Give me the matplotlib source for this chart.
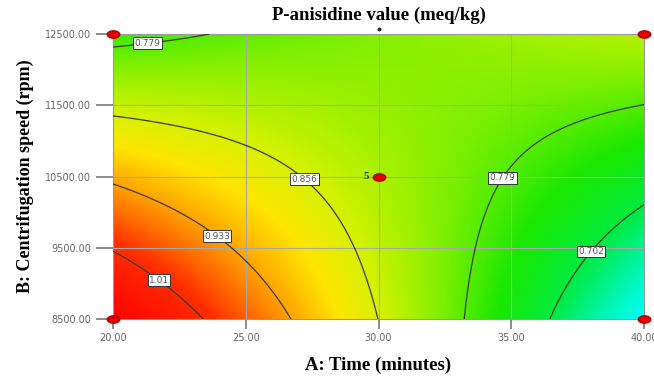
import numpy as np
import matplotlib
matplotlib.use("Agg")
import matplotlib.pyplot as plt
from matplotlib.colors import LinearSegmentedColormap
from matplotlib.path import Path

# Factor ranges (A: time in minutes, B: centrifugation speed in rpm)
time_range = [20.0, 40.0]
speed_range = [8500.0, 12500.0]
time_ticks = [20.0, 25.0, 30.0, 35.0, 40.0]
speed_ticks = [8500.0, 9500.0, 10500.0, 11500.0, 12500.0]

# Quadratic response-surface model in coded units: b0, A, B, AB, A^2, B^2
coef_names = ["b0", "A", "B", "AB", "A2", "B2"]
coef_values = [0.827, -0.1005, -0.0265, 0.1355, -0.003, 0.002]

# Contour levels and where their labels sit
levels = [0.702, 0.779, 0.856, 0.933, 1.01]
label_pos = [(21.3, 12400), (27.3, 10500), (24.0, 9700), (21.8, 9080),
             (34.6, 10500), (38.2, 9390)]

# Design points (corner runs and replicated centre point)
design_time = [20, 20, 40, 40, 30]
design_speed = [8500, 12500, 12500, 8500, 10500]
center_reps = 5

# colour ramp: cyan (low) -> green -> yellow -> red (high)
ramp_values = [0.6165, 0.66, 0.70, 0.75, 0.80, 0.85, 0.89, 0.93, 1.00, 1.0885]
ramp_colors = [(0.0, 1.0, 1.0), (0.0, 0.96, 0.65), (0.0, 0.92, 0.25),
               (0.1, 0.91, 0.0), (0.5, 0.94, 0.0), (0.82, 0.95, 0.0),
               (1.0, 0.9, 0.0), (1.0, 0.66, 0.0), (1.0, 0.18, 0.0),
               (1.0, 0.0, 0.0)]


def response(t, s):
    a = (t - 30.0) / 10.0
    b = (s - 10500.0) / 2000.0
    c = dict(zip(coef_names, coef_values))
    return (c["b0"] + c["A"] * a + c["B"] * b + c["AB"] * a * b
            + c["A2"] * a ** 2 + c["B2"] * b ** 2)


t = np.linspace(time_range[0], time_range[1], 400)
s = np.linspace(speed_range[0], speed_range[1], 400)
T, S = np.meshgrid(t, s)
Z = response(T, S)

vmin, vmax = ramp_values[0], ramp_values[-1]
stops = [(v - vmin) / (vmax - vmin) for v in ramp_values]
cmap = LinearSegmentedColormap.from_list("de_ramp", list(zip(stops, ramp_colors)))

fig = plt.figure(figsize=(6.54, 3.79), dpi=100)
ax = fig.add_axes([0.1728, 0.1583, 0.8119, 0.752])

ax.imshow(Z, extent=[*time_range, *speed_range], origin="lower",
          aspect="auto", cmap=cmap, vmin=vmin, vmax=vmax, interpolation="bilinear")

# grid lines at the tick positions
for x in time_ticks[1:-1]:
    ax.axvline(x, color="#a8a8a8", lw=0.8, zorder=2)
for y in speed_ticks[1:-1]:
    ax.axhline(y, color="#a8a8a8", lw=0.8, zorder=2)

cs = ax.contour(T, S, Z, levels=levels, colors="#3a3a20", linewidths=0.9, zorder=3)
labels = ax.clabel(cs, fmt=lambda v: f"{v:g}", fontsize=6.5, inline=False,
                   manual=label_pos, colors="#555555")
for txt in labels:
    txt.set_rotation(0)
    txt.set_bbox(dict(boxstyle="square,pad=0.15", fc="white", ec="#333333", lw=0.7))
    txt.set_zorder(5)

# elliptical marker for the design points
circ = Path.unit_circle()
ellipse = Path(circ.vertices * np.array([1.7, 1.0]), circ.codes)
ax.plot(design_time, design_speed, linestyle="none", marker=ellipse, ms=9,
        color="#e00000", mec="#b00000", clip_on=False, zorder=6)
ax.text(design_time[-1] - 0.35, design_speed[-1], str(center_reps), ha="right",
        va="center", fontsize=8, fontweight="bold", color="#333333",
        family="Liberation Serif", zorder=6)
ax.plot([30], [12570], marker="o", ms=1.8, color="#222244", clip_on=False)

ax.set_xlim(time_range)
ax.set_ylim(speed_range)
ax.set_xticks(time_ticks)
ax.set_yticks(speed_ticks)
ax.set_xticklabels([f"{v:.2f}" for v in time_ticks])
ax.set_yticklabels([f"{v:.2f}" for v in speed_ticks])
ax.tick_params(axis="x", length=7, width=1.2, color="#777777", labelsize=7,
               labelcolor="#666666", pad=3)
ax.tick_params(axis="y", length=12, width=1.2, color="#777777", labelsize=7,
               labelcolor="#666666", pad=4)
for sp in ax.spines.values():
    sp.set_color("#999999")
    sp.set_linewidth(0.8)

serif = "Liberation Serif"
ax.set_title("P-anisidine value (meq/kg)", fontsize=13.5, fontweight="bold",
             family=serif, pad=10)
ax.set_xlabel("A: Time (minutes)", fontsize=13.5, fontweight="bold", family=serif,
              labelpad=10)
ax.set_ylabel("B: Centrifugation speed (rpm)", fontsize=13, fontweight="bold",
              family=serif, labelpad=8)

fig.savefig("out.png", dpi=100)
